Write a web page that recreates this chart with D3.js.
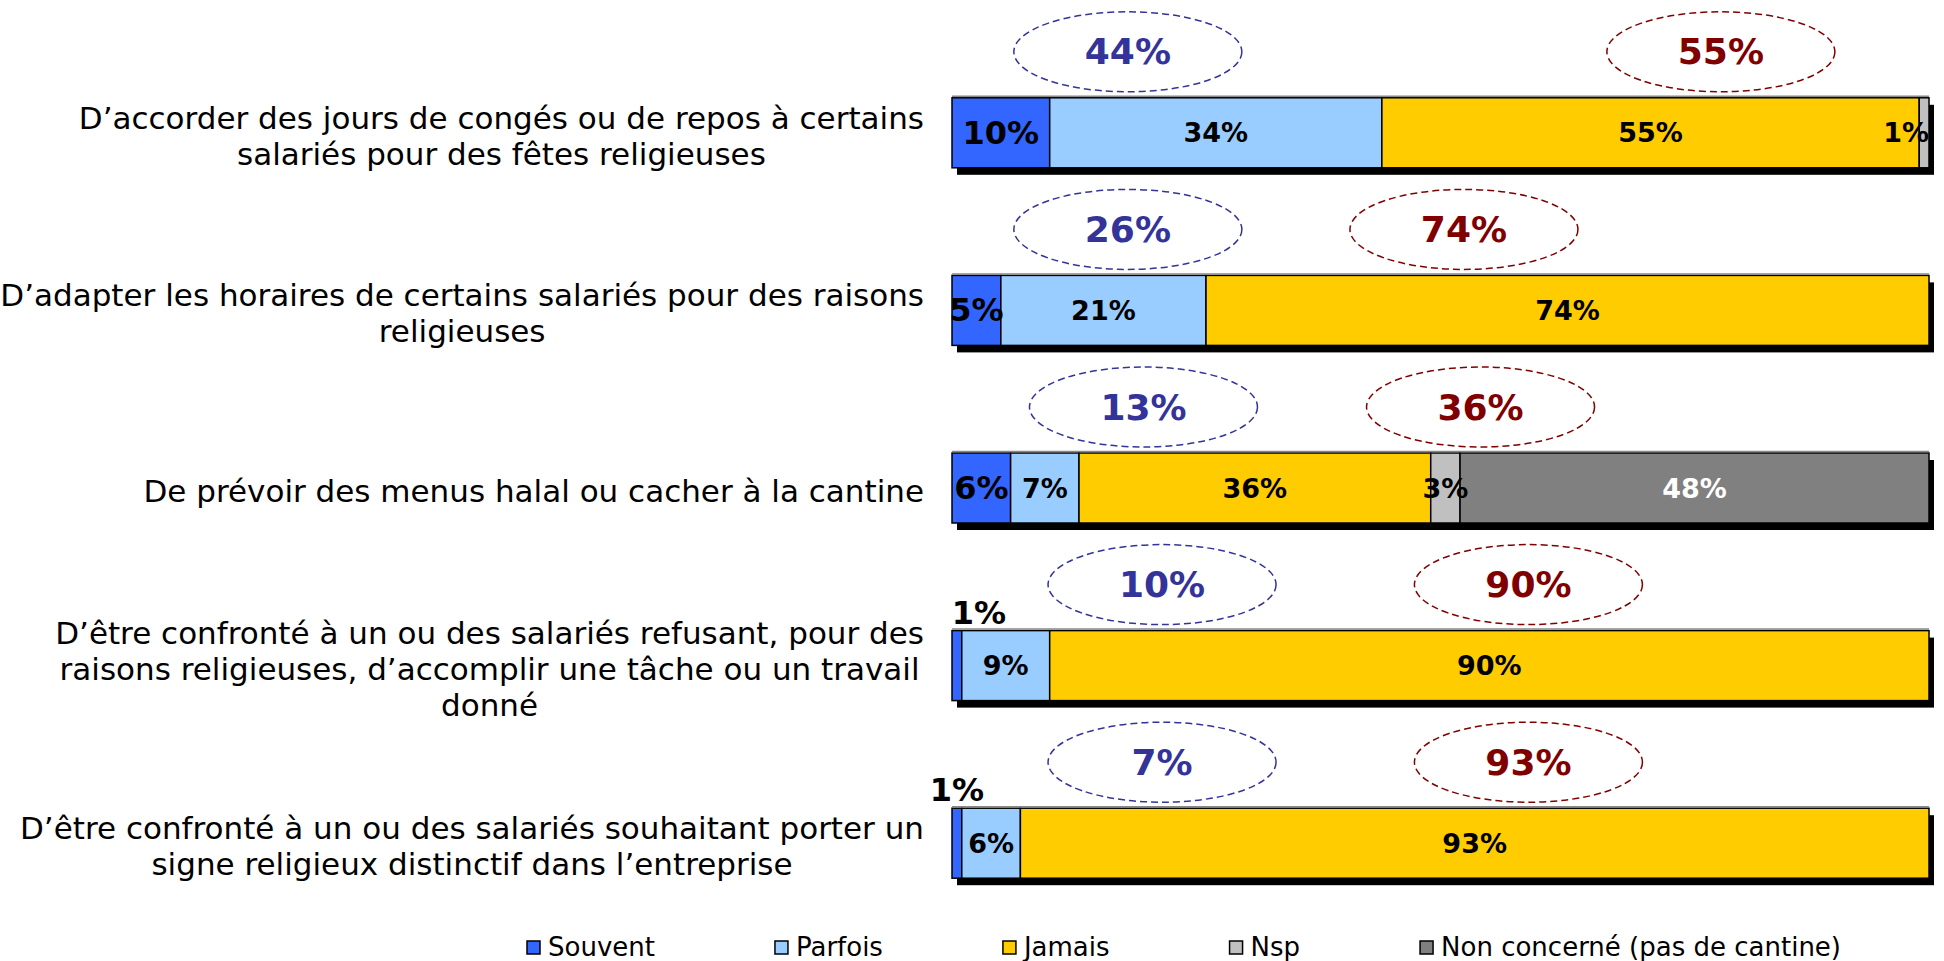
<!DOCTYPE html>
<html lang="fr">
<head>
<meta charset="UTF-8">
<script src="https://d3js.org/d3.v7.min.js"></script>
<title>Faits religieux en entreprise</title>
<style>
  body { margin: 0; background: #fff; }
  svg { display: block; font-family: "DejaVu Sans", Verdana, sans-serif; }
</style>
</head>
<body>
<svg id="chart" width="1944" height="961"></svg>
<script>
// questions (one line per entry, as in the reference)
var questions = [
  ["D’accorder des jours de congés ou de repos à certains", "salariés pour des fêtes religieuses"],
  ["D’adapter les horaires de certains salariés pour des raisons", "religieuses"],
  ["De prévoir des menus halal ou cacher à la cantine"],
  ["D’être confronté à un ou des salariés refusant, pour des", "raisons religieuses, d’accomplir une tâche ou un travail", "donné"],
  ["D’être confronté à un ou des salariés souhaitant porter un", "signe religieux distinctif dans l’entreprise"]
];
var series = ["Souvent", "Parfois", "Jamais", "Nsp", "Non concerné (pas de cantine)"];

// valeurs en %
var souvent     = [10, 5, 6, 1, 1];
var parfois     = [34, 21, 7, 9, 6];
var jamais      = [55, 74, 36, 90, 93];
var nsp         = [1, 0, 3, 0, 0];
var nonConcerne = [0, 0, 48, 0, 0];

// where the two callout bubbles sit, in % of the bar
var bubbleOui    = [18, 18, 19.6, 21.5, 21.5];
var bubbleJamais = [78.7, 52.4, 54.1, 59, 59];

var colors = ["#3366ff", "#99ccff", "#ffcc00", "#c0c0c0", "#808080"];

var rows = questions.map(function (q, i) {
  return { i: i, Souvent: souvent[i], Parfois: parfois[i], Jamais: jamais[i],
           Nsp: nsp[i], "Non concerné (pas de cantine)": nonConcerne[i] };
});
var stacked = d3.stack().keys(series)(rows);

var svg = d3.select("#chart");

var x = d3.scaleLinear().domain([0, 100]).range([952, 1929]);
var y = d3.scaleBand().domain(d3.range(questions.length)).range([44, 932]);
var barH = 70;
function barTop(i) { return y(i) + y.bandwidth() / 2 - barH / 2; }
function mid(i) { return y(i) + y.bandwidth() / 2; }

// ombre
svg.append("g").selectAll("rect")
  .data(rows)
  .enter().append("rect")
  .attr("x", x(0) + 5)
  .attr("y", function (d) { return barTop(d.i) + 7; })
  .attr("width", x(100) - x(0))
  .attr("height", barH)
  .attr("fill", "#000");

// segments
var layers = svg.append("g").selectAll("g")
  .data(stacked)
  .enter().append("g")
  .attr("fill", function (d, k) { return colors[k]; });

layers.selectAll("rect")
  .data(function (d) { return d.filter(function (s) { return s[1] - s[0] > 0; }); })
  .enter().append("rect")
  .attr("x", function (s) { return x(s[0]); })
  .attr("y", function (s) { return barTop(s.data.i); })
  .attr("width", function (s) { return x(s[1]) - x(s[0]); })
  .attr("height", barH)
  .attr("stroke", "#000")
  .attr("stroke-width", 1.5);

// fine grey top edge
svg.append("g").selectAll("line")
  .data(rows)
  .enter().append("line")
  .attr("x1", x(0)).attr("x2", x(100))
  .attr("y1", function (d) { return barTop(d.i) - 1.5; })
  .attr("y2", function (d) { return barTop(d.i) - 1.5; })
  .attr("stroke", "#888")
  .attr("stroke-width", 1.5);

// étiquettes des segments
stacked.forEach(function (layer, k) {
  layer.forEach(function (s) {
    var v = s[1] - s[0];
    if (v <= 0) return;
    var i = s.data.i;
    var t = svg.append("text")
      .text(v + "%")
      .attr("font-weight", "bold")
      .attr("font-size", k === 0 ? 32 : 27)
      .attr("fill", k === 4 ? "#fff" : "#000")
      .attr("text-anchor", "middle");
    var w = t.node().getComputedTextLength();
    var cx = (x(s[0]) + x(s[1])) / 2;
    if (k === 0 && v < 2) {
      t.attr("x", cx + (i === 3 ? 22 : 0)).attr("y", barTop(i) - 7);
    } else {
      cx = Math.min(cx, x(100) - w / 2);
      t.attr("x", cx).attr("y", mid(i)).attr("dominant-baseline", "central");
    }
  });
});

// bulles
function bubble(pos, val, color) {
  var g = svg.append("g").selectAll("g")
    .data(rows)
    .enter().append("g")
    .attr("transform", function (d) { return "translate(" + x(pos[d.i]) + "," + (mid(d.i) - 81) + ")"; });
  g.append("ellipse")
    .attr("rx", 114).attr("ry", 40)
    .attr("fill", "none")
    .attr("stroke", color)
    .attr("stroke-width", 1.5)
    .attr("stroke-dasharray", "7,4");
  g.append("text")
    .text(function (d) { return val(d) + "%"; })
    .attr("y", 0)
    .attr("text-anchor", "middle")
    .attr("dominant-baseline", "central")
    .attr("font-weight", "bold")
    .attr("font-size", 36)
    .attr("fill", color);
}
bubble(bubbleOui, function (d) { return d.Souvent + d.Parfois; }, "#333399");
bubble(bubbleJamais, function (d) { return d.Jamais; }, "#800000");

// libellés des questions
questions.forEach(function (lines, i) {
  var t = svg.append("text")
    .attr("font-size", 31)
    .attr("fill", "#000")
    .attr("text-anchor", "middle");
  lines.forEach(function (line, j) {
    t.append("tspan").text(line)
      .attr("y", mid(i) + 3 + (j - (lines.length - 1) / 2) * 36)
      .attr("dominant-baseline", "central");
  });
  var maxW = d3.max(t.selectAll("tspan").nodes(), function (n) { return n.getComputedTextLength(); });
  t.selectAll("tspan").attr("x", 924 - maxW / 2);
});

// légende
var legend = svg.append("g").attr("transform", "translate(527,947)");
var lx = 0;
series.forEach(function (name, k) {
  var item = legend.append("g").attr("transform", "translate(" + lx + ",0)");
  item.append("rect")
    .attr("x", 0).attr("y", -6)
    .attr("width", 13).attr("height", 13)
    .attr("fill", colors[k])
    .attr("stroke", "#000")
    .attr("stroke-width", 1.5);
  var t = item.append("text")
    .text(name)
    .attr("x", 21)
    .attr("y", 0)
    .attr("dominant-baseline", "central")
    .attr("font-size", 26)
    .attr("fill", "#000");
  lx += 21 + t.node().getComputedTextLength() + 120;
});
</script>
</body>
</html>
